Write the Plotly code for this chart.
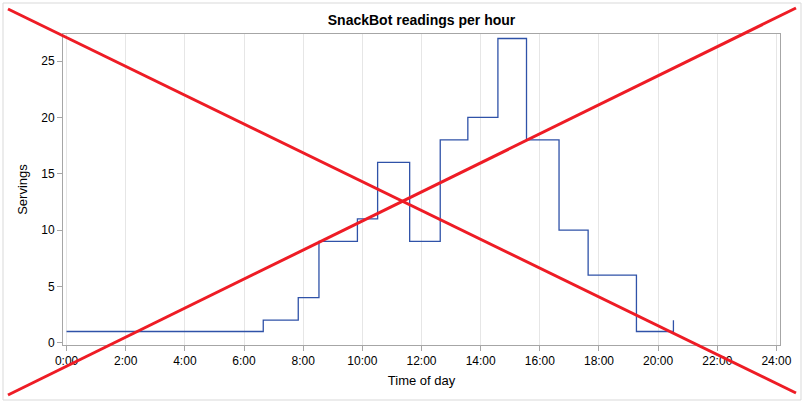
import plotly.graph_objects as go

# Data
reading_times = ["0:00", "6:39", "7:50", "8:32", "9:50", "10:31", "11:36", "12:38",
                 "13:34", "14:35", "15:33", "16:39", "17:38", "19:16", "20:31"]
servings = [1, 2, 4, 9, 11, 16, 9, 18, 20, 27, 18, 10, 6, 1, 2]
tick_hours = list(range(0, 25, 2))
tick_labels = [f"{h}:00" for h in tick_hours]

hours = [int(t.split(":")[0]) + int(t.split(":")[1]) / 60 for t in reading_times]

W, H = 805, 404
ML, MR, MT, MB = 63, 25, 34, 59
PW, PH = W - ML - MR, H - MT - MB


def px(x):
    return (x - ML) / PW


def py(y):
    return (H - MB - y) / PH


FONT = "Arial, Liberation Sans, sans-serif"
AXIS_GRAY = "#a6a6a6"

fig = go.Figure()
fig.add_trace(go.Scatter(
    x=hours, y=servings, mode="lines", line_shape="hv",
    line=dict(color="#2f52a8", width=1.3), showlegend=False, hoverinfo="x+y"))

shapes = [
    # outer frame
    dict(type="rect", xref="paper", yref="paper", x0=px(3), x1=px(801), y0=py(400), y1=py(3),
         line=dict(color="#d9d9d9", width=1), layer="below"),
    # red X overlay
    dict(type="line", xref="paper", yref="paper", x0=px(8), y0=py(9), x1=px(796), y1=py(393),
         line=dict(color="#ee1c25", width=3), layer="above"),
    dict(type="line", xref="paper", yref="paper", x0=px(8), y0=py(395), x1=px(796), y1=py(8),
         line=dict(color="#ee1c25", width=3), layer="above"),
]

fig.update_layout(
    width=W, height=H,
    margin=dict(l=ML, r=MR, t=MT, b=MB, autoexpand=False),
    paper_bgcolor="white", plot_bgcolor="white",
    font=dict(family=FONT, size=12, color="black"),
    title=dict(text="<b>SnackBot readings per hour</b>", x=(ML + PW / 2) / W, xanchor="center",
               y=1 - 20 / H, yanchor="middle", font=dict(size=14, family=FONT, color="black")),
    shapes=shapes,
    xaxis=dict(range=[-0.12, 24.12], tickvals=tick_hours, ticktext=tick_labels,
               showgrid=True, gridcolor="#e6e6e6", gridwidth=1, zeroline=False,
               showline=True, linecolor=AXIS_GRAY, linewidth=1, mirror=True,
               ticks="outside", ticklen=5, tickcolor=AXIS_GRAY,
               tickfont=dict(size=12, color="black"),
               title=dict(text="Time of day", font=dict(size=13), standoff=8)),
    yaxis=dict(range=[-0.2, 27.4], tickvals=[0, 5, 10, 15, 20, 25],
               showgrid=False, zeroline=False,
               showline=True, linecolor=AXIS_GRAY, linewidth=1, mirror=True,
               ticks="outside", ticklen=5, tickcolor=AXIS_GRAY,
               tickfont=dict(size=12, color="black"),
               title=dict(text="Servings", font=dict(size=13), standoff=10)),
)

fig.write_html("out.html", config={"displayModeBar": False},
               post_script="document.body.style.margin='0';document.body.style.overflow='hidden';")
